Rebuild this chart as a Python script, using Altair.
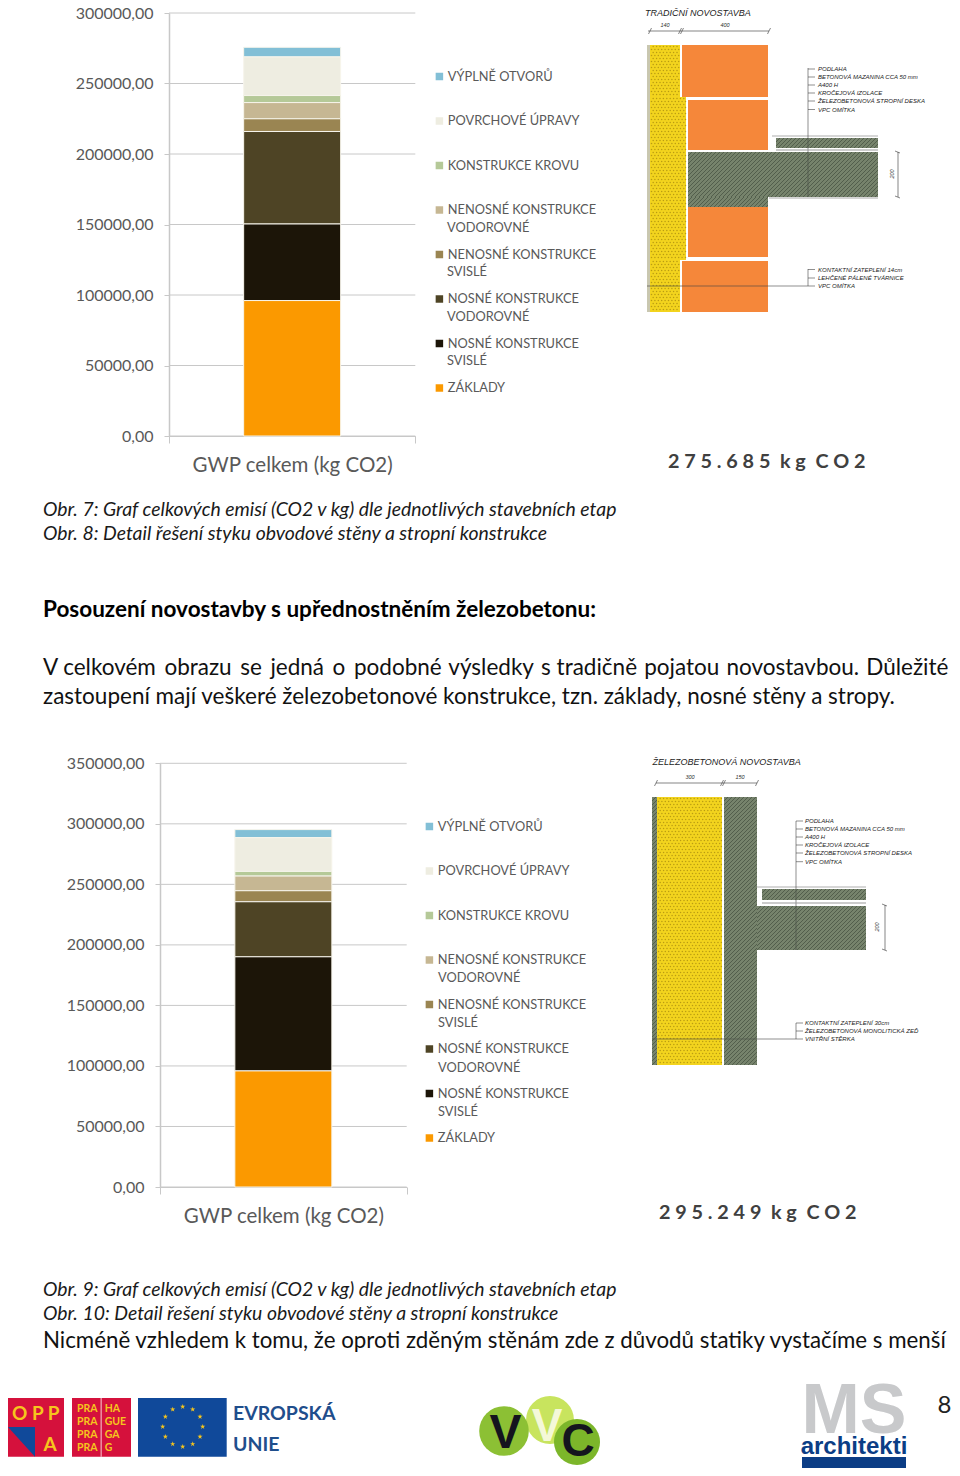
import math
import altair as alt
import pandas as pd

CATS = ["VÝPLNĚ OTVORŮ", "POVRCHOVÉ ÚPRAVY", "KONSTRUKCE KROVU", "NENOSNÉ KONSTRUKCE|VODOROVNÉ",
        "NENOSNÉ KONSTRUKCE|SVISLÉ", "NOSNÉ KONSTRUKCE|VODOROVNÉ", "NOSNÉ KONSTRUKCE|SVISLÉ", "ZÁKLADY"]
COLORS = ["#82BFD6", "#EEEDE1", "#B5C998", "#C6B793", "#9A8552", "#4E4425", "#1C1508", "#FB9900"]
VALUES_1 = [6825, 27400, 5000, 11500, 9000, 65600, 54300, 96060]
VALUES_2 = [6709, 27840, 3850, 12130, 9090, 45470, 94260, 95900]
TICKS_1 = [0, 50000, 100000, 150000, 200000, 250000, 300000]
TICKS_2 = TICKS_1 + [350000]
AXIS_TITLE = "GWP celkem (kg CO2)"

LATO = "Lato"
ARIAL = "Liberation Sans"
GRAY = "#595959"
AXIS_COLOR = "#C8C8C8"
W, H = 944, 1460


def bar_layers(values, ticks, top, x_range, y_range, legend_x, legend_y):
    xs = alt.Scale(domain=[0, 1], range=x_range, padding=0, nice=False, zero=False)
    ys = alt.Scale(domain=[0, top], range=y_range, nice=False)
    grid = (
        alt.Chart(pd.DataFrame({"tick": ticks, "a": [0] * len(ticks), "b": [1] * len(ticks)}))
        .mark_rule(color=AXIS_COLOR, strokeWidth=1)
        .encode(x=alt.X("a:Q", scale=xs, axis=None), x2="b:Q", y=alt.Y("tick:Q", scale=ys, axis=None))
    )
    df = pd.DataFrame({"kategorie": CATS, "hodnota": values, "poradi": list(range(len(CATS), 0, -1)), "pos": [0.5] * len(CATS)})
    bars = (
        alt.Chart(df)
        .mark_bar(size=97, orient="vertical", stroke="#F7F5EC", strokeWidth=1)
        .encode(
            x=alt.X("pos:Q", scale=xs,
                    axis=alt.Axis(orient="bottom", values=[0.0001, 0.9999], labels=False, ticks=True, grid=False, tickSize=7,
                                  tickColor=AXIS_COLOR, domainColor=AXIS_COLOR, title=AXIS_TITLE, titleFont=LATO,
                                  titleFontSize=20.5, titleFontWeight="normal", titleColor=GRAY, titlePadding=12,
                                  offset=y_range[0] - H)),
            y=alt.Y("hodnota:Q", stack="zero", scale=ys,
                    axis=alt.Axis(orient="left", values=ticks, grid=False, tickColor=AXIS_COLOR, tickSize=5,
                                  domainColor=AXIS_COLOR, domainWidth=1.5, title=None, labelFont=LATO, labelFontSize=16,
                                  labelColor=GRAY, labelPadding=11, offset=-x_range[0],
                                  labelExpr="replace(format(datum.value,'.2f'),'.',',')")),
            order=alt.Order("poradi:Q"),
            color=alt.Color("kategorie:N", scale=alt.Scale(domain=CATS, range=COLORS),
                            legend=alt.Legend(orient="none", legendX=legend_x, legendY=legend_y, title=None, padding=0,
                                              symbolType="square", symbolSize=56, symbolStrokeWidth=0,
                                              labelFont=LATO, labelFontSize=12.8, labelColor=GRAY, labelLimit=400,
                                              labelOffset=2, rowPadding=30.5, clipHeight=14,
                                              labelExpr="split(datum.label,'|')[0]")),
        )
    )
    return [grid, bars]


class Panel:
    def __init__(self, ox, oy):
        self.ox, self.oy = ox, oy
        self.texts, self.boxes, self.lines, self.dots, self.tris = [], [], [], [], []

    def t(self, text, x, y, size, color="#000000", font=LATO, style="normal", weight="normal", align="left", angle=0):
        nudge = 0.9 if font == LATO else 0
        self.texts.append(dict(text=text, x=x - self.ox, y=y + nudge - self.oy, size=size, color=color, font=font, style=style,
                               weight=weight, align=align, angle=angle))

    def box(self, x0, y0, x1, y1, color):
        self.boxes.append(dict(x=x0 - self.ox, x2=x1 - self.ox, y=y0 - self.oy, y2=y1 - self.oy, color=color))

    def line(self, x0, y0, x1, y1, color="#333333", width=0.6):
        self.lines.append(dict(x=x0 - self.ox, x2=x1 - self.ox, y=y0 - self.oy, y2=y1 - self.oy, color=color, width=width))

    def dot(self, x, y, size, color, shape="circle"):
        self.dots.append(dict(x=x - self.ox, y=y - self.oy, size=size, color=color, shape=shape))

    def tri(self, x0, x1, y, y2, color):
        self.tris.append(dict(color=color, pts=[dict(x=x0 - self.ox, y=y - self.oy, y2=y - self.oy),
                                                dict(x=x1 - self.ox, y=y - self.oy, y2=y2 - self.oy)]))

    def hatch(self, x0, y0, x1, y1, base="#76836C", ink="#4E5A48", step=4):
        self.box(x0, y0, x1, y1, base)
        c = x0 + y0 + step
        while c < x1 + y1:
            a = max(x0, c - y1)
            b = min(x1, c - y0)
            self.line(a, c - a, b, c - b, ink, 0.9)
            c += step

    def honey(self, x0, y0, x1, y1):
        self.box(x0, y0, x1, y1, "#F3D41E")
        row = 0
        y = y0 + 1.5
        while y < y1:
            x = x0 + (1.5 if row % 2 else 3.2)
            while x < x1:
                self.dot(x, y, 2.2, "#B99C12")
                x += 3.4
            y += 3
            row += 1

    def layers(self):
        X = lambda f: alt.X(f + ":Q", scale=None, axis=None)
        Y = lambda f: alt.Y(f + ":Q", scale=None, axis=None)
        layers = []
        layers.append(alt.Chart(pd.DataFrame(self.boxes)).mark_rect().encode(
            x=X("x"), x2="x2:Q", y=Y("y"), y2="y2:Q", color=alt.Color("color:N", scale=None)))
        for tri in self.tris:
            layers.append(alt.Chart(pd.DataFrame(tri["pts"])).mark_area(color=tri["color"]).encode(
                x=X("x"), y=Y("y"), y2="y2:Q"))
        d = pd.DataFrame(self.dots)
        for shape, g in d.groupby("shape"):
            layers.append(alt.Chart(g).mark_point(filled=True, opacity=1, shape=shape, strokeWidth=0).encode(
                x=X("x"), y=Y("y"), size=alt.Size("size:Q", scale=None, legend=None),
                color=alt.Color("color:N", scale=None)))
        d = pd.DataFrame(self.lines)
        for w, g in d.groupby("width"):
            layers.append(alt.Chart(g).mark_rule(strokeWidth=float(w)).encode(
                x=X("x"), x2="x2:Q", y=Y("y"), y2="y2:Q", color=alt.Color("color:N", scale=None)))
        d = pd.DataFrame(self.texts)
        for (font, style, weight, align, angle), g in d.groupby(["font", "style", "weight", "align", "angle"]):
            layers.append(alt.Chart(g).mark_text(font=font, fontStyle=style, fontWeight=weight, align=align,
                                                 baseline="middle", angle=int(angle)).encode(
                x=X("x"), y=Y("y"), text="text:N", size=alt.Size("size:Q", scale=None, legend=None),
                color=alt.Color("color:N", scale=None)))
        return layers


def legend_lines(p, x, ys):
    for word, y in zip(["VODOROVNÉ", "SVISLÉ", "VODOROVNÉ", "SVISLÉ"], ys):
        p.t(word, x, y, 12.8, GRAY)


def detail_labels(p, x, ys, labels):
    for s, y in zip(labels, ys):
        p.t(s, x, y, 6, "#222222", ARIAL, "italic")


P = Panel(8, 8)
# ---------- first detail ----------
legend_lines(P, 447, [227, 271, 316, 360])
P.t("TRADIČNÍ NOVOSTAVBA", 645, 12.5, 9, "#222222", ARIAL, "italic")
P.box(647, 45, 650, 312, "#C9C7B0")
P.honey(650, 45, 680, 97)
P.honey(650, 97, 686, 260)
P.honey(650, 260, 680, 312)
for x0, y0, x1, y1 in [(682, 45, 768, 97), (688, 100, 768, 150), (688, 207, 768, 257), (682, 261, 768, 312)]:
    P.box(x0, y0, x1, y1, "#F5873A")
P.hatch(688, 152, 878, 197)
P.hatch(688, 197, 768, 207)
P.hatch(776, 138, 878, 148)
P.line(772, 136, 878, 136, "#777777", 0.6)
P.line(776, 150, 878, 150, "#999999", 1.2)
P.line(769, 198, 878, 198, "#AAAAAA", 1)
P.line(648, 31, 769, 31)
P.t("140", 665, 25, 5.5, "#333333", ARIAL, "italic", align="center")
P.t("400", 725, 25, 5.5, "#333333", ARIAL, "italic", align="center")
for x in [650, 680, 682, 769]:
    P.line(x - 1.5, 34, x + 1.5, 28)
P.line(808, 68, 808, 197, "#444444", 0.6)
for y in [69, 77, 85, 93, 101, 109.5]:
    P.line(808, y, 815, y, "#444444", 0.6)
detail_labels(P, 818, [69, 77, 85, 93, 101, 109.5],
              ["PODLAHA", "BETONOVÁ MAZANINA CCA 50 mm", "A400 H", "KROČEJOVÁ IZOLACE",
               "ŽELEZOBETONOVÁ STROPNÍ DESKA", "VPC OMÍTKA"])
P.line(647, 286, 808, 286, "#444444", 0.6)
P.line(808, 269, 808, 286, "#444444", 0.6)
for y in [269.5, 278, 286]:
    P.line(808, y, 815, y, "#444444", 0.6)
detail_labels(P, 818, [269.5, 278, 286], ["KONTAKTNÍ ZATEPLENÍ 14cm", "LEHČENÉ PÁLENÉ TVÁRNICE", "VPC OMÍTKA"])
P.line(898, 152, 898, 197)
P.line(895, 151, 900, 153)
P.line(895, 196, 900, 198)
P.t("200", 892, 174, 5.5, "#333333", ARIAL, "italic", align="center", angle=270)

# ---------- second detail ----------
legend_lines(P, 438, [977, 1022, 1067, 1111])
P.t("ŽELEZOBETONOVÁ NOVOSTAVBA", 652.5, 762, 9, "#222222", ARIAL, "italic")
P.hatch(652, 797, 657, 1065)
P.honey(657, 797, 722, 1065)
P.hatch(724, 797, 757, 1065)
P.hatch(757, 906, 866, 950)
P.hatch(762, 889, 866, 900)
P.line(757, 887, 866, 887, "#777777", 0.6)
P.line(762, 903, 866, 903, "#999999", 1.2)
P.line(656, 783, 757, 783)
P.t("300", 690, 776.5, 5.5, "#333333", ARIAL, "italic", align="center")
P.t("150", 740, 776.5, 5.5, "#333333", ARIAL, "italic", align="center")
for x in [656, 722, 724, 757]:
    P.line(x - 1.5, 786, x + 1.5, 780)
P.line(796, 821, 796, 950, "#444444", 0.6)
for y in [821, 829, 837, 845, 853, 861.7]:
    P.line(796, y, 803, y, "#444444", 0.6)
detail_labels(P, 805, [821, 829, 837, 845, 853, 861.7],
              ["PODLAHA", "BETONOVÁ MAZANINA CCA 50 mm", "A400 H", "KROČEJOVÁ IZOLACE",
               "ŽELEZOBETONOVÁ STROPNÍ DESKA", "VPC OMÍTKA"])
P.line(652, 1039, 796, 1039, "#444444", 0.6)
P.line(796, 1023, 796, 1039, "#444444", 0.6)
for y in [1023, 1031, 1039]:
    P.line(796, y, 803, y, "#444444", 0.6)
detail_labels(P, 805, [1023, 1031, 1039], ["KONTAKTNÍ ZATEPLENÍ 30cm", "ŽELEZOBETONOVÁ MONOLITICKÁ ZEĎ", "VNITŘNÍ STĚRKA"])
P.line(885, 905, 885, 950)
P.line(882, 904, 887, 906)
P.line(882, 949, 887, 951)
P.t("200", 877, 927, 5.5, "#333333", ARIAL, "italic", align="center", angle=270)

# ---------- page text ----------
N = "\u200a "
N2 = "\u200a\u200a "
G = "\u00a0 "
P.t("2 7 5 . 6 8 5" + G + "k g" + G + "C O 2", 668, 461, 19.8, "#404040", weight="bold")
P.t("Obr. 7: Graf celkových emisí (CO2 v kg) dle jednotlivých stavebních etap", 43, 509, 19.4, "#1a1a1a", style="italic")
P.t("Obr. 8: Detail řešení styku obvodové stěny a stropní konstrukce", 43, 533, 19.4, "#1a1a1a", style="italic")
P.t("Posouzení novostavby s upřednostněním železobetonu:", 43, 609, 22.5, "#000000", weight="bold")
P.t("V celkovém" + N2 + "obrazu" + N2 + "se" + N2 + "jedná" + N2 + "o" + N2 + "podobné" + N + "výsledky" + N + "s tradičně" + N + "pojatou" + N + "novostavbou." + N + "Důležité", 43, 667, 22.5, "#111111")
P.t("zastoupení mají veškeré železobetonové konstrukce, tzn. základy, nosné stěny a stropy.", 43, 696, 22.5, "#111111")
P.t("2 9 5 . 2 4 9" + G + "k g" + G + "C O 2", 659, 1212, 19.8, "#404040", weight="bold")
P.t("Obr. 9: Graf celkových emisí (CO2 v kg) dle jednotlivých stavebních etap", 43, 1289, 19.4, "#1a1a1a", style="italic")
P.t("Obr. 10: Detail řešení styku obvodové stěny a stropní konstrukce", 43, 1313, 19.4, "#1a1a1a", style="italic")
P.t("Nicméně vzhledem k tomu, že oproti zděným stěnám zde z důvodů statiky vystačíme s menší", 43, 1340, 22.3, "#111111")

# ---------- logos ----------
RED = "#D5113C"
GOLD = "#F6C51D"
BLUE = "#10499A"
P.box(8, 1398, 64, 1456.7, RED)
P.tri(8, 35, 1427, 1456.7, BLUE)
P.t("O P P", 12, 1413, 19, GOLD, weight="bold")
P.t("A", 50, 1444, 19, GOLD, weight="bold", align="center")
P.box(72, 1398, 131, 1456.7, RED)
P.box(100.7, 1398, 101.5, 1456.7, "#FFFFFF")
for pra, ha, y in zip(["PRA"] * 4, ["HA", "GUE", "GA", "G"], [1407.7, 1420.7, 1434, 1447]):
    P.t(pra, 77, y, 10.5, GOLD, weight="bold")
    P.t(ha, 104.7, y, 10.5, GOLD, weight="bold")
P.box(138, 1398, 226.7, 1456.7, BLUE)
STAR = "M0,-1L0.22,-0.31L0.95,-0.31L0.36,0.12L0.59,0.81L0,0.38L-0.59,0.81L-0.36,0.12L-0.95,-0.31L-0.22,-0.31Z"
for k in range(12):
    P.dot(182.7 + 20 * math.cos(k * math.pi / 6), 1426.7 + 20 * math.sin(k * math.pi / 6), 30, GOLD, STAR)
P.t("EVROPSKÁ", 233, 1413, 19.5, "#1F4E8C", weight="bold")
P.t("UNIE", 233, 1444, 19.5, "#1F4E8C", weight="bold")
P.dot(550, 1420, 2300, "#C8E45E")
P.dot(504, 1431, 2460, "#8CC034")
P.dot(577, 1442, 2120, "#7CB62A")
P.t("V", 547, 1427, 46, "#F4F8D8", ARIAL, weight="bold", align="center")
P.t("V", 505.5, 1434, 48, "#14141E", ARIAL, weight="bold", align="center")
P.t("C", 578, 1442, 46, "#14141E", ARIAL, weight="bold", align="center")
P.box(802, 1457, 906, 1468, "#0B3D85")
P.t("MS", 854, 1412, 70, "#C8C9CB", ARIAL, weight="bold", align="center")
P.t("architekti", 854, 1447, 24, "#0B3D85", ARIAL, weight="bold", align="center")
P.t("8", 951.5, 1405, 24, "#222222", align="right")

all_layers = (bar_layers(VALUES_1, TICKS_1, 300000, [161, 407.3], [428, 5], 425, 61.5)
              + bar_layers(VALUES_2, TICKS_2, 350000, [152, 398.7], [1179, 755.3], 415, 811.5)
              + P.layers())

chart = (
    alt.layer(*all_layers)
    .resolve_scale(x="independent", y="independent", color="independent", size="independent")
    .resolve_axis(x="independent", y="independent")
    .resolve_legend(color="independent")
    .properties(width=W, height=H, autosize=alt.AutoSizeParams(type="none"), padding=0)
    .configure(background="#FFFFFF")
    .configure_view(strokeWidth=0)
)
chart.save("out.html", embed_options={"renderer": "svg", "actions": False})
